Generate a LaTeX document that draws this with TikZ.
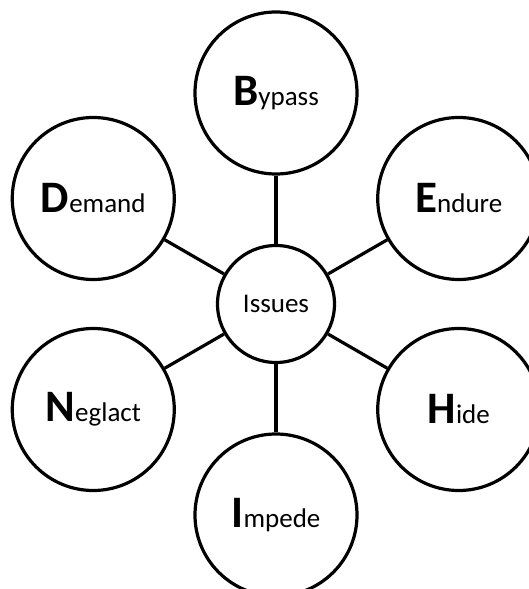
\documentclass[tikz,border=0pt]{standalone}
\usepackage{fontspec}
\setmainfont{Carlito}
\usepackage{tikz}

\newcommand{\capword}[2]{{\fontsize{45}{45}\selectfont\bfseries #1}{\fontsize{27}{27}\selectfont #2}}

\begin{document}
\begin{tikzpicture}[x=1pt, y=1pt]

    % Frame
    \useasboundingbox (-276,-285) rectangle (253,304);

    \tikzset{
        issue/.style={circle, draw, line width=3.2pt, minimum size=162pt, inner sep=0pt},
        hub/.style={circle, draw, line width=3.2pt, minimum size=117pt, inner sep=0pt,
            font=\fontsize{27}{27}\selectfont},
        spoke/.style={line width=3.2pt}
    }

    % Centre
    \node[hub] (issues) at (0,0) {Issues};

    % Outer circles
    \node[issue] (bypass) at (90:211) {\capword{B}{ypass}};
    \node[issue] (endure) at (30:211) {\capword{E}{ndure}};
    \node[issue] (hide) at (-30:211) {\capword{H}{ide}};
    \node[issue] (impede) at (-90:211) {\capword{I}{mpede}};
    \node[issue] (neglact) at (210:211) {\capword{N}{eglact}};
    \node[issue] (demand) at (150:211) {\capword{D}{emand}};

    % Spokes
    \draw[spoke] (issues) -- (bypass);
    \draw[spoke] (issues) -- (endure);
    \draw[spoke] (issues) -- (hide);
    \draw[spoke] (issues) -- (impede);
    \draw[spoke] (issues) -- (neglact);
    \draw[spoke] (issues) -- (demand);

\end{tikzpicture}
\end{document}
